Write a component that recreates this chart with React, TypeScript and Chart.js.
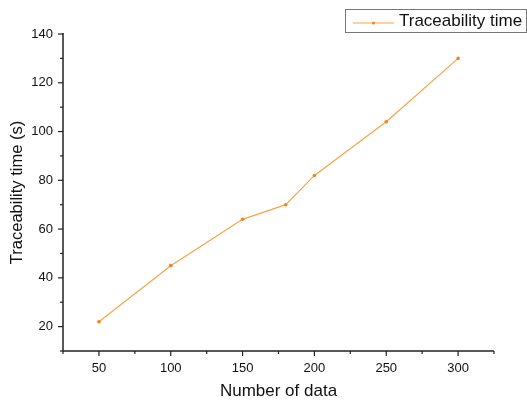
import React, { useEffect, useRef } from "react";
import { Chart, registerables } from "chart.js";

Chart.register(...registerables);

const xValues = [50, 100, 150, 180, 200, 250, 300];
const traceTimes = [22, 45, 64, 70, 82, 104, 130];
const seriesLabel = "Traceability time";
const xTitle = "Number of data";
const yTitle = "Traceability time (s)";

const FONT = "'Liberation Sans', Arial, sans-serif";
const LINE_COLOR = "#F9A24A";
const POINT_COLOR = "#F5821C";
const AXIS_COLOR = "#222222";

export default function App() {
  const ref = useRef<HTMLCanvasElement | null>(null);

  useEffect(() => {
    document.body.style.margin = "0";
    const canvas = ref.current;
    if (!canvas) return;

    const tickPlugin = {
      id: "originTicks",
      afterDraw(chart: any) {
        const ctx = chart.ctx;
        const xs = chart.scales.x;
        const ys = chart.scales.y;
        const ca = chart.chartArea;
        ctx.save();
        ctx.strokeStyle = AXIS_COLOR;
        ctx.lineWidth = 1.5;
        ctx.beginPath();
        ctx.moveTo(ca.left, ca.top - 1);
        ctx.lineTo(ca.left, ca.bottom);
        ctx.lineTo(ca.right, ca.bottom);
        ctx.stroke();
        ctx.lineWidth = 1.2;
        for (let v = 25; v <= 325; v += 25) {
          const px = xs.getPixelForValue(v);
          const len = v % 50 === 0 ? 5 : 3;
          ctx.beginPath();
          ctx.moveTo(px, ca.bottom);
          ctx.lineTo(px, ca.bottom + len);
          ctx.stroke();
        }
        for (let v = 10; v <= 140; v += 10) {
          const py = ys.getPixelForValue(v);
          const len = v % 20 === 0 ? 5 : 3;
          ctx.beginPath();
          ctx.moveTo(ca.left, py);
          ctx.lineTo(ca.left - len, py);
          ctx.stroke();
        }
        // legend
        const bx = 345, by = 9, bw = 181, bh = 23;
        ctx.strokeStyle = "#777777";
        ctx.lineWidth = 1;
        ctx.strokeRect(bx + 0.5, by + 0.5, bw, bh);
        ctx.strokeStyle = LINE_COLOR;
        ctx.beginPath();
        ctx.moveTo(353, by + 14);
        ctx.lineTo(394, by + 14);
        ctx.stroke();
        ctx.fillStyle = POINT_COLOR;
        ctx.beginPath();
        ctx.arc(373.5, by + 14, 1.5, 0, Math.PI * 2);
        ctx.fill();
        ctx.fillStyle = "#111111";
        ctx.font = `17px ${FONT}`;
        ctx.textBaseline = "middle";
        ctx.textAlign = "left";
        ctx.fillText(seriesLabel, 399, by + 12.5);
        ctx.restore();
      },
    };

    const chart = new Chart(canvas, {
      type: "line",
      data: {
        datasets: [
          {
            label: seriesLabel,
            data: xValues.map((x, i) => ({ x, y: traceTimes[i] })),
            borderColor: LINE_COLOR,
            backgroundColor: POINT_COLOR,
            pointBackgroundColor: POINT_COLOR,
            pointBorderWidth: 0,
            pointRadius: 1.8,
            borderWidth: 1.2,
            tension: 0,
          },
        ],
      },
      options: {
        animation: false,
        responsive: false,
        maintainAspectRatio: false,
        layout: { padding: { top: 34, right: 33, left: 0, bottom: 0 } },
        plugins: { legend: { display: false }, tooltip: { enabled: false } },
        scales: {
          x: {
            type: "linear",
            min: 25,
            max: 325,
            border: { display: false },
            grid: { display: false, drawTicks: false },
            afterFit: (s: any) => {
              s.height = 51;
            },
            ticks: {
              stepSize: 50,
              autoSkip: false,
              maxRotation: 0,
              padding: 10,
              color: "#111111",
              font: { family: FONT, size: 13 },
            },
            afterBuildTicks: (s: any) => {
              s.ticks = [50, 100, 150, 200, 250, 300].map((v) => ({ value: v }));
            },
            title: {
              display: true,
              text: xTitle,
              color: "#111111",
              font: { family: FONT, size: 17 },
              padding: { top: 0, bottom: 0 },
            },
          },
          y: {
            type: "linear",
            min: 10,
            max: 140,
            border: { display: false },
            grid: { display: false, drawTicks: false },
            afterFit: (s: any) => {
              s.width = 63;
            },
            afterBuildTicks: (s: any) => {
              s.ticks = [20, 40, 60, 80, 100, 120, 140].map((v) => ({ value: v }));
            },
            ticks: {
              autoSkip: false,
              padding: 10,
              color: "#111111",
              font: { family: FONT, size: 13 },
            },
            title: {
              display: true,
              text: yTitle,
              color: "#111111",
              font: { family: FONT, size: 16.5 },
              padding: { top: 8, bottom: 0 },
            },
          },
        },
      },
      plugins: [tickPlugin],
    });
    return () => chart.destroy();
  }, []);

  return <canvas ref={ref} width={527} height={402} style={{ display: "block" }} />;
}
